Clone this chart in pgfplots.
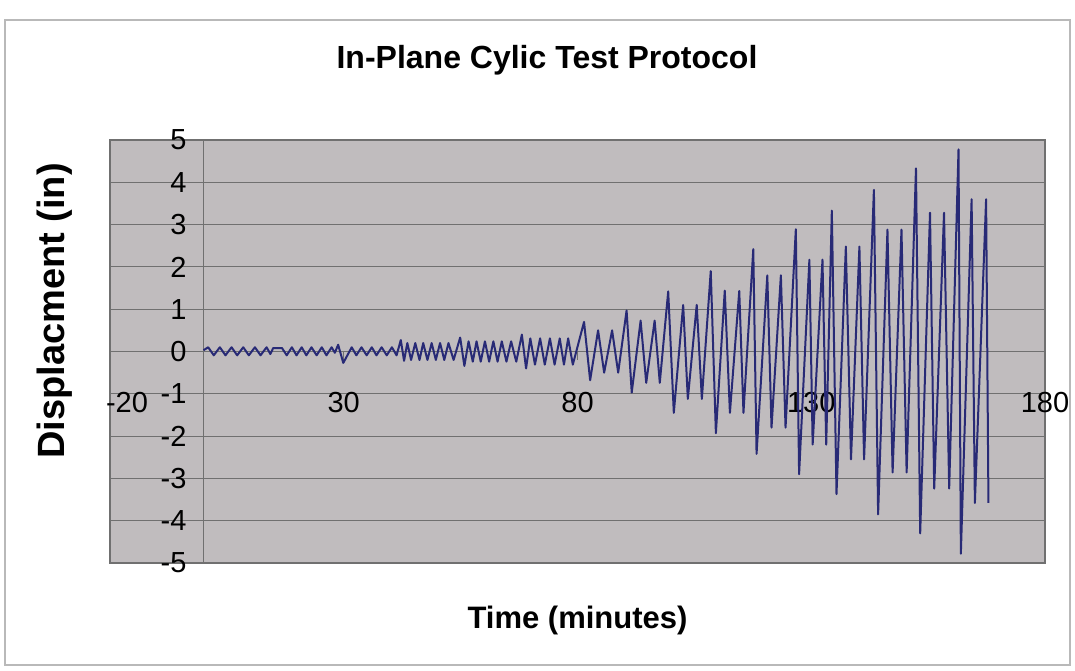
\documentclass[border=0pt]{standalone}
\usepackage{fontspec}
\setmainfont{Liberation Sans}
\usepackage{pgfplots}
\pgfplotsset{compat=1.18}
\definecolor{plotbg}{RGB}{192,188,190}
\definecolor{gridc}{RGB}{112,112,112}
\definecolor{linec}{RGB}{40,42,118}
\begin{document}
\begin{tikzpicture}
\useasboundingbox (-55pt,-53.5pt) rectangle (482.5pt,281.5pt);
\draw[gray!55, line width=0.6pt] (-52.5pt,-51pt) rectangle (480pt,271.5pt);
\begin{axis}[
  at={(0,0)}, anchor=south west,
  scale only axis, width=467.5pt, height=211.5pt,
  xmin=-20, xmax=180, ymin=-5, ymax=5,
  enlargelimits=false,
  axis lines=middle,
  axis line style={gridc, line width=0.6pt, -},
  every inner x axis line/.append style={-},
  every inner y axis line/.append style={-},
  axis background/.style={fill=plotbg, draw=gridc, line width=0.6pt},
  xtick={-20,30,80,130,180},
  xticklabels={\hspace{17pt}-20,30,80,130,180},
  ytick={-5,-4,...,5},
  yticklabels={-5,-4,-3,-2,-1,0,1,2,3,4,5},
  ymajorgrids, grid style={gridc, line width=0.5pt},
  hide obscured x ticks=false, hide obscured y ticks=false,
  tick align=outside, major tick length=4pt,
  tick style={gridc, line width=0.6pt},
  ticklabel style={font=\fontsize{14.5}{16}\selectfont},
  x tick label style={yshift=-13pt},
  y tick label style={xshift=-1pt},
]
\addplot[linec, line width=1pt, line join=round] coordinates {
(0,0.03) (1.0,0.1) (2.2,-0.09) (3.5,0.1) (4.7,-0.09) (6.0,0.1) (7.2,-0.09) (8.5,0.1) (9.7,-0.09) (11.0,0.1) (12.2,-0.09) (13.5,0.1) (14.3,-0.06) (14.9,0.08) (16.8,0.08) (17.8,-0.09) (18.9,0.1) (19.9,-0.09) (21.0,0.1) (22.0,-0.09) (23.1,0.1) (24.2,-0.09) (25.3,0.1) (26.3,-0.09) (27.4,0.1) (28.1,-0.03) (28.8,0.16) (29.9,-0.27) (31.7,0.1) (32.7,-0.09) (33.8,0.1) (34.9,-0.09) (36.0,0.1) (37.0,-0.09) (38.1,0.1) (39.2,-0.09) (40.3,0.1) (41.3,-0.09)
(42.2,0.27) (42.9,-0.22) (43.6,0.2) (44.4,-0.2) (45.3,0.2) (46.2,-0.2) (47.0,0.2) (47.9,-0.2) (48.8,0.2) (49.7,-0.2) (50.6,0.2) (51.5,-0.2) (52.4,0.2) (53.5,-0.2) (54.9,0.33) (55.8,-0.34) (56.7,0.24) (57.6,-0.24) (58.4,0.24) (59.3,-0.24) (60.2,0.24) (61.1,-0.24) (62.0,0.24) (62.9,-0.24) (63.8,0.24) (64.8,-0.24) (65.8,0.24) (66.9,-0.24) (68.1,0.4) (69.0,-0.4) (69.9,0.31) (70.9,-0.31) (72.0,0.31) (73.0,-0.31) (74.1,0.31) (75.1,-0.31) (76.2,0.31) (77.1,-0.31) (78.0,0.31) (79.0,-0.31)
(81.4,0.7) (82.7,-0.68) (84.4,0.5) (85.7,-0.5) (87.4,0.5) (88.7,-0.5) (90.5,0.97) (91.6,-0.97) (93.5,0.73) (94.7,-0.74) (96.5,0.73) (97.6,-0.74) (99.4,1.42) (100.6,-1.45) (102.6,1.1) (103.6,-1.12) (105.5,1.1) (106.6,-1.12) (108.5,1.9) (109.6,-1.93) (111.5,1.44) (112.6,-1.45) (114.6,1.43) (115.5,-1.45) (117.6,2.42) (118.3,-2.42) (120.6,1.8) (121.5,-1.8) (123.5,1.8) (124.5,-1.8) (126.7,2.89) (127.4,-2.9) (129.6,2.17) (130.3,-2.2) (132.4,2.17) (133.2,-2.2) (134.4,3.33) (135.4,-3.37) (137.4,2.48) (138.5,-2.55) (140.3,2.48) (141.3,-2.55) (143.4,3.82) (144.3,-3.85) (146.3,2.88) (147.4,-2.86) (149.3,2.88) (150.4,-2.86) (152.4,4.33) (153.3,-4.3) (155.4,3.28) (156.3,-3.24) (158.4,3.28) (159.5,-3.24) (161.5,4.78) (162.0,-4.78) (164.3,3.6) (165.0,-3.58) (167.4,3.6) (167.9,-3.58)
};
\end{axis}
\node[font=\bfseries\fontsize{16}{18}\selectfont] at (218.5pt,251.5pt) {In-Plane Cylic Test Protocol};
\node[font=\bfseries\fontsize{15.5}{18}\selectfont] at (233.75pt,-28.5pt) {Time (minutes)};
\node[font=\bfseries\fontsize{19}{21}\selectfont, rotate=90] at (-27.5pt,126pt) {Displacment (in)};
\end{tikzpicture}
\end{document}
